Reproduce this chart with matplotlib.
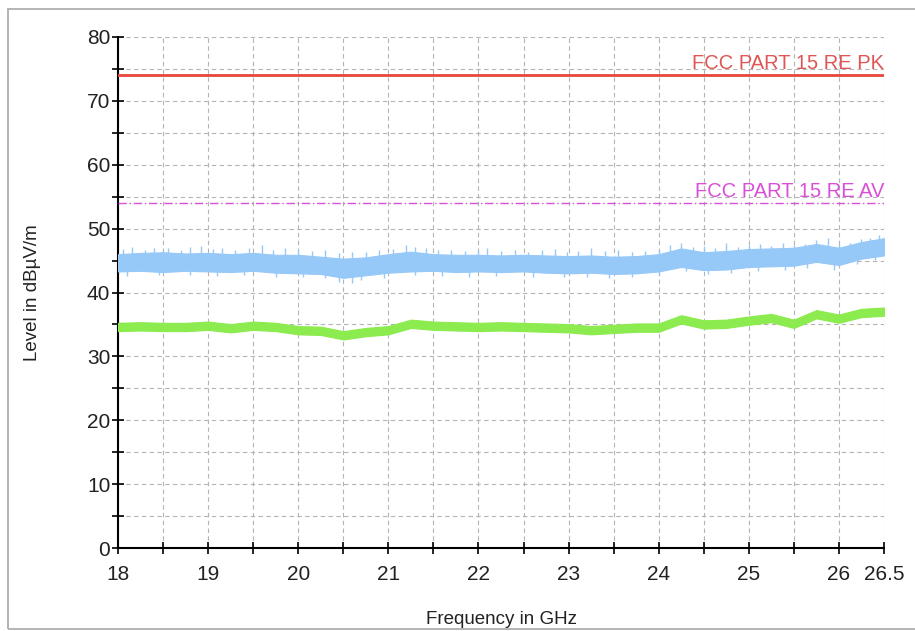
import numpy as np
import matplotlib
matplotlib.use('Agg')
import matplotlib.pyplot as plt
from matplotlib.patches import Rectangle
from matplotlib.ticker import MultipleLocator, FixedLocator

plt.rcParams['font.family'] = ['Liberation Sans', 'DejaVu Sans']

# frequency grid of the read-off envelope (GHz)
freq = [18.0, 18.25, 18.5, 18.75, 19.0, 19.25, 19.5, 19.75, 20.0, 20.25,
        20.5, 20.75, 21.0, 21.25, 21.5, 21.75, 22.0, 22.25, 22.5, 22.75,
        23.0, 23.25, 23.5, 23.75, 24.0, 24.25, 24.5, 24.75, 25.0, 25.25,
        25.5, 25.75, 26.0, 26.25, 26.5]

# peak trace (blue) band
peak_low = [43.3, 43.4, 43.2, 43.4, 43.3, 43.2, 43.4, 43.1, 43.0, 42.9,
            42.3, 42.7, 43.1, 43.3, 43.4, 43.2, 43.3, 43.2, 43.3, 43.1,
            43.0, 43.1, 42.9, 43.0, 43.3, 44.0, 43.5, 43.6, 44.0, 44.1,
            44.2, 44.8, 44.3, 45.3, 45.8]
peak_high = [46.0, 46.2, 46.3, 46.1, 46.2, 46.0, 46.2, 45.9, 45.9, 45.6,
             45.3, 45.5, 46.0, 46.4, 46.0, 45.9, 45.9, 45.8, 45.9, 45.8,
             45.7, 45.8, 45.6, 45.7, 46.0, 46.9, 46.3, 46.5, 46.8, 46.9,
             47.0, 47.6, 47.0, 47.9, 48.5]

# spikes sticking up out of the blue band
up_f = [18.05, 18.15, 18.3, 18.4, 18.55, 18.7, 18.8, 18.92, 19.05, 19.15,
        19.3, 19.45, 19.6, 19.72, 19.85, 20.0, 20.15, 20.3, 20.45, 20.6,
        20.75, 20.9, 21.05, 21.2, 21.3, 21.42, 21.55, 21.7, 21.85, 22.0,
        22.1, 22.25, 22.4, 22.55, 22.7, 22.85, 22.98, 23.1, 23.25, 23.4,
        23.55, 23.7, 23.85, 24.0, 24.12, 24.25, 24.38, 24.5, 24.62, 24.75,
        24.88, 25.0, 25.12, 25.25, 25.38, 25.5, 25.62, 25.75, 25.88, 26.0,
        26.12, 26.25, 26.35, 26.45]
up_top = [46.8, 47.1, 46.7, 47.0, 46.9, 46.6, 47.2, 47.3, 46.8, 46.9,
          46.7, 47.0, 47.4, 46.7, 46.9, 46.6, 46.5, 46.6, 46.2, 46.4,
          46.3, 46.6, 46.8, 47.5, 47.2, 47.0, 46.7, 46.6, 46.5, 46.6,
          46.9, 46.5, 46.7, 46.4, 46.6, 46.8, 46.4, 46.5, 46.9, 46.5,
          46.6, 46.3, 46.5, 46.7, 47.5, 47.7, 47.2, 47.3, 47.0, 47.7,
          47.2, 47.4, 47.6, 47.3, 47.7, 47.5, 47.6, 48.2, 48.5, 47.6,
          47.8, 48.4, 48.6, 49.0]

# spikes reaching down out of the blue band
down_f = [18.1, 18.45, 18.8, 19.1, 19.4, 19.75, 20.05, 20.3, 20.45, 20.6,
          20.7, 20.95, 21.3, 21.6, 21.9, 22.2, 22.6, 22.95, 23.2, 23.45,
          23.7, 24.0, 24.3, 24.55, 24.8, 25.1, 25.4, 25.65, 25.95, 26.2,
          26.4]
down_bot = [42.6, 42.8, 42.7, 42.6, 42.8, 42.5, 42.4, 42.3, 41.6, 41.5,
            41.9, 42.3, 42.7, 42.6, 42.5, 42.6, 42.5, 42.4, 42.4, 42.2,
            42.5, 42.7, 43.4, 42.9, 43.1, 43.4, 43.5, 43.8, 43.6, 44.5,
            45.1]

# average trace (green) centre
avg_mid = [34.6, 34.7, 34.6, 34.6, 34.8, 34.4, 34.8, 34.6, 34.1, 34.0,
           33.3, 33.8, 34.1, 35.1, 34.8, 34.7, 34.6, 34.7, 34.6, 34.5,
           34.4, 34.1, 34.3, 34.5, 34.5, 35.8, 35.0, 35.1, 35.6, 36.0,
           35.1, 36.6, 35.9, 36.8, 37.0]
avg_half = 0.65

limit_pk = 74
limit_av = 54
x_ticks = [18, 19, 20, 21, 22, 23, 24, 25, 26, 26.5]
x_labels = ['18', '19', '20', '21', '22', '23', '24', '25', '26', '26.5']

W, H = 915, 631
fig = plt.figure(figsize=(W / 100, H / 100), dpi=100)
fig.patches.append(Rectangle((8 / W, 1 - 629 / H), 1.0, (629 - 9) / H,
                             transform=fig.transFigure, fill=False,
                             edgecolor='#a8a8a8', linewidth=1.2))

ax = fig.add_axes([118 / W, 1 - 548 / H, (884 - 118) / W, (548 - 37) / H])
ax.set_xlim(18, 26.5)
ax.set_ylim(0, 80)

blue = '#96c8f8'
green = '#8ceb4e'
ax.fill_between(freq, peak_low, peak_high, color=blue, linewidth=0.8,
                edgecolor=blue, zorder=3)
ax.vlines(up_f, np.interp(up_f, freq, peak_high) - 0.5, up_top,
          color=blue, linewidth=1.0, zorder=3)
ax.vlines(down_f, down_bot, np.interp(down_f, freq, peak_low) + 0.5,
          color=blue, linewidth=1.0, zorder=3)

mid = np.array(avg_mid)
ax.fill_between(freq, mid - avg_half, mid + avg_half, color=green,
                linewidth=0.8, edgecolor=green, zorder=3)

ax.axhline(limit_pk, color='#e8453c', linewidth=2, zorder=4)
ax.axhline(limit_av, color='#d84fd8', linewidth=1, dashes=(6, 2, 1, 2),
           zorder=4)
ax.text(26.5, limit_pk + 0.3, 'FCC PART 15 RE PK', color='#e05555',
        fontsize=14.5, ha='right', va='bottom', zorder=5)
ax.text(26.5, limit_av + 0.3, 'FCC PART 15 RE AV', color='#d84fd8',
        fontsize=14.5, ha='right', va='bottom', zorder=5)

ax.xaxis.set_major_locator(FixedLocator(x_ticks))
ax.set_xticklabels(x_labels)
ax.xaxis.set_minor_locator(FixedLocator(np.arange(18.5, 26.5, 1.0)))
ax.yaxis.set_major_locator(MultipleLocator(10))
ax.yaxis.set_minor_locator(MultipleLocator(5))
ax.tick_params(which='both', direction='inout', length=9, width=1.2,
               labelsize=15, colors='black', labelcolor='#222222', pad=1)
ax.tick_params(axis='x', which='major', pad=8)

ax.grid(True, which='both', color='#b4b4b4', linestyle=(0, (4, 3)),
        linewidth=0.8, zorder=1)
ax.set_axisbelow(True)

for s in ['top', 'right']:
    ax.spines[s].set_visible(False)
for s in ['left', 'bottom']:
    ax.spines[s].set_linewidth(1.5)

ax.set_xlabel('Frequency in GHz', fontsize=13.5, labelpad=19, color='#222222')
ax.set_ylabel('Level in dBµV/m', fontsize=13.5, labelpad=33, color='#222222')

fig.savefig('out.png', dpi=100)
